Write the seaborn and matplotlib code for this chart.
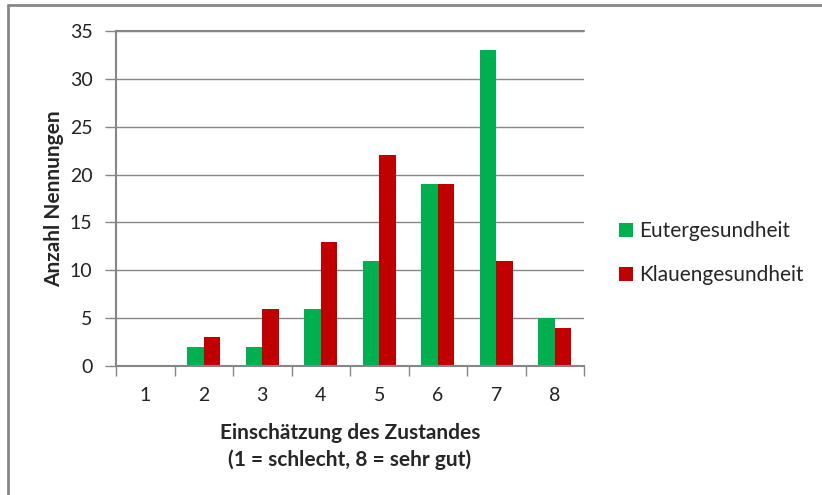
import matplotlib
matplotlib.use("Agg")
import matplotlib.pyplot as plt
import seaborn as sns
import pandas as pd
from matplotlib.lines import Line2D
from matplotlib.patches import Patch

categories = ["1", "2", "3", "4", "5", "6", "7", "8"]
euter = [0, 2, 2, 6, 11, 19, 33, 5]
klauen = [0, 3, 6, 13, 22, 19, 11, 4]
series_names = ["Eutergesundheit", "Klauengesundheit"]
colors = ["#00B050", "#C00000"]
yticks = [0, 5, 10, 15, 20, 25, 30, 35]

df = pd.DataFrame({
    "cat": categories * 2,
    "val": euter + klauen,
    "series": [series_names[0]] * len(categories) + [series_names[1]] * len(categories),
})

sns.set_theme(style="white")
plt.rcParams["font.family"] = ["Lato", "DejaVu Sans"]

W, H = 822, 495
fig = plt.figure(figsize=(W / 100, H / 100), dpi=100)
L, R, T, B = 116, 584, 31, 366
ax = fig.add_axes([L / W, 1 - B / H, (R - L) / W, (B - T) / H])

sns.barplot(data=df, x="cat", y="val", hue="series", order=categories,
            hue_order=series_names, palette=colors, width=0.565,
            saturation=1, ax=ax, legend=False, linewidth=0)

gray = "#868686"
ax.set_ylim(0, 35)
ax.set_xlim(-0.5, len(categories) - 0.5)
ax.set_yticks(yticks)
ax.set_yticklabels([str(v) for v in yticks], fontsize=14, color="#222222")
ax.yaxis.grid(True, color=gray, linewidth=1)
ax.set_axisbelow(True)
ax.tick_params(axis="y", length=8, width=1, color=gray, pad=9, left=True)
ax.tick_params(axis="x", which="major", length=0, pad=15, labelsize=14, labelcolor="#222222")
ax.set_xticks([i - 0.5 for i in range(len(categories) + 1)], minor=True)
ax.tick_params(axis="x", which="minor", length=7, width=1, color=gray, bottom=True, direction="out")

for s in ["top", "right"]:
    ax.spines[s].set_visible(False)
for s in ["left", "bottom"]:
    ax.spines[s].set_color(gray)
    ax.spines[s].set_linewidth(1.5)
ax.axhline(35, color=gray, linewidth=1.5, clip_on=False)

ax.set_xlabel("Einschätzung des Zustandes\n(1 = schlecht, 8 = sehr gut)",
              fontsize=15, fontweight="bold", labelpad=14, linespacing=1.4)
ax.set_ylabel("Anzahl Nennungen", fontsize=15, fontweight="bold", labelpad=4)

handles = [Patch(facecolor=c, edgecolor="none") for c in colors]
fig.legend(handles, series_names, loc="center left",
           bbox_to_anchor=(611 / W, 1 - 253 / H), frameon=False,
           fontsize=15, labelspacing=1.15, handlelength=0.65, handleheight=0.65,
           handletextpad=0.3, borderaxespad=0)

fig.add_artist(Line2D([8 / W, 8 / W], [0, 1 - 5 / H], transform=fig.transFigure,
                      color=gray, linewidth=2))
fig.add_artist(Line2D([8 / W, 1], [1 - 5 / H, 1 - 5 / H], transform=fig.transFigure,
                      color=gray, linewidth=2))

fig.savefig("out.png", dpi=100)
